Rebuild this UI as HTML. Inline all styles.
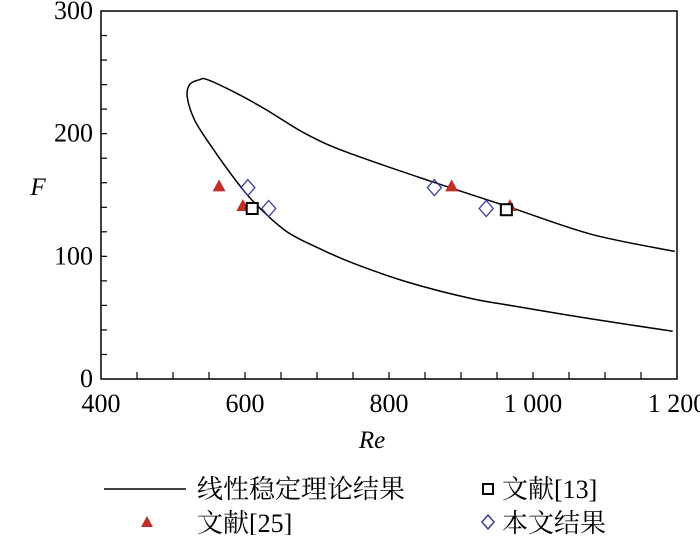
<!DOCTYPE html>
<html><head><meta charset="utf-8"><style>
body{margin:0;background:#fff;}
svg text{font-family:"Liberation Serif","Noto Serif CJK SC",serif;}
</style></head><body>
<svg width="700" height="535" viewBox="0 0 700 535">
<g id="plot"></g>
<text x="38" y="195" font-size="25" font-style="italic" text-anchor="middle">F</text>
<text x="372" y="448" font-size="25" font-style="italic" text-anchor="middle">Re</text>
<g font-size="26">
<line x1="104" y1="489" x2="186" y2="489" stroke="#000" stroke-width="1.5"/>
<text x="197" y="498">线性稳定理论结果</text>
<rect x="483" y="484" width="10" height="10" fill="none" stroke="#000" stroke-width="2"/>
<text x="502" y="498">文献[13]</text>
<polygon points="147,516 141,527 153,527" fill="#c0302a"/>
<text x="197" y="532">文献[25]</text>
<polygon points="488,515 494,522 488,529 482,522" fill="none" stroke="#3a3f9a" stroke-width="1.5"/>
<text x="502" y="532">本文结果</text>
</g>
</svg>
<script>
const xTicks=[400,600,800,1000,1200];
const xTickLabels=["400","600","800","1 000","1 200"];
const yTicks=[0,100,200,300];
const curveRe=[1197,1081,968,854,741,684,628,588,548,537,523,520,531,554,582,611,656,701,752,826,911,968,1081,1194];
const curveF=[104,118,140,162,185,200,220,233,244,244,240,229,210,189,166,145,121,107,94,79,66,60,49,39];
const ref25Re=[564,597,887,968];
const ref25F=[157,141,157,141];
const ref13Re=[610,963];
const ref13F=[139,138];
const presentRe=[604,633,863,935];
const presentF=[156,139,156,139];
const L=101,R=677,T=11,B=379;
const sx=v=>L+(v-400)/800*(R-L);
const sy=v=>B-v/300*(B-T);
const NS="http://www.w3.org/2000/svg";
const g=document.getElementById('plot');
function mk(tag,attrs){const e=document.createElementNS(NS,tag);for(const k in attrs)e.setAttribute(k,attrs[k]);g.appendChild(e);return e;}
let fr=mk('rect',{x:L,y:T,width:R-L,height:B-T,fill:'none',stroke:'#000','stroke-width':1.5});


for(let v=450;v<1200;v+=50){let t=mk('line',{x1:sx(v),x2:sx(v),y1:B,y2:B-7,stroke:'#000','stroke-width':1.2});

}
for(let v=20;v<300;v+=20){let t=mk('line',{x1:L,x2:L+6,y1:sy(v),y2:sy(v),stroke:'#000','stroke-width':1.2});

}
xTicks.forEach((v,i)=>{let t=mk('text',{x:sx(v),y:B+33,'font-size':26,'text-anchor':'middle'});t.textContent=xTickLabels[i];

});
yTicks.forEach(v=>{let t=mk('text',{x:L-8,y:sy(v)+8,'font-size':26,'text-anchor':'end'});t.textContent=String(v);

});
const P=curveRe.map((v,i)=>[sx(v),sy(curveF[i])]);
let d='M'+P[0][0].toFixed(1)+','+P[0][1].toFixed(1);
for(let i=0;i<P.length-1;i++){
 const p0=P[Math.max(i-1,0)],p1=P[i],p2=P[i+1],p3=P[Math.min(i+2,P.length-1)];
 const c1=[p1[0]+(p2[0]-p0[0])/6,p1[1]+(p2[1]-p0[1])/6];
 const c2=[p2[0]-(p3[0]-p1[0])/6,p2[1]-(p3[1]-p1[1])/6];
 d+=` C${c1[0].toFixed(1)},${c1[1].toFixed(1)} ${c2[0].toFixed(1)},${c2[1].toFixed(1)} ${p2[0].toFixed(1)},${p2[1].toFixed(1)}`;
}
let c=mk('path',{d:d,fill:'none',stroke:'#000','stroke-width':1.5,'stroke-linejoin':'round'});


ref25Re.forEach((v,i)=>{const x=sx(v),y=sy(ref25F[i]);let p=mk('polygon',{points:`${x},${y-7} ${x-6.5},${y+5} ${x+6.5},${y+5}`,fill:'#c0302a'});

});
ref13Re.forEach((v,i)=>{const x=sx(v),y=sy(ref13F[i]);let p=mk('rect',{x:x-5.5,y:y-5.5,width:11,height:11,fill:'#fff',stroke:'#000','stroke-width':2});

});
presentRe.forEach((v,i)=>{const x=sx(v),y=sy(presentF[i]);let p=mk('polygon',{points:`${x},${y-8} ${x+7},${y} ${x},${y+8} ${x-7},${y}`,fill:'none',stroke:'#3a3f9a','stroke-width':1.3});

});
</script>
</body></html>
